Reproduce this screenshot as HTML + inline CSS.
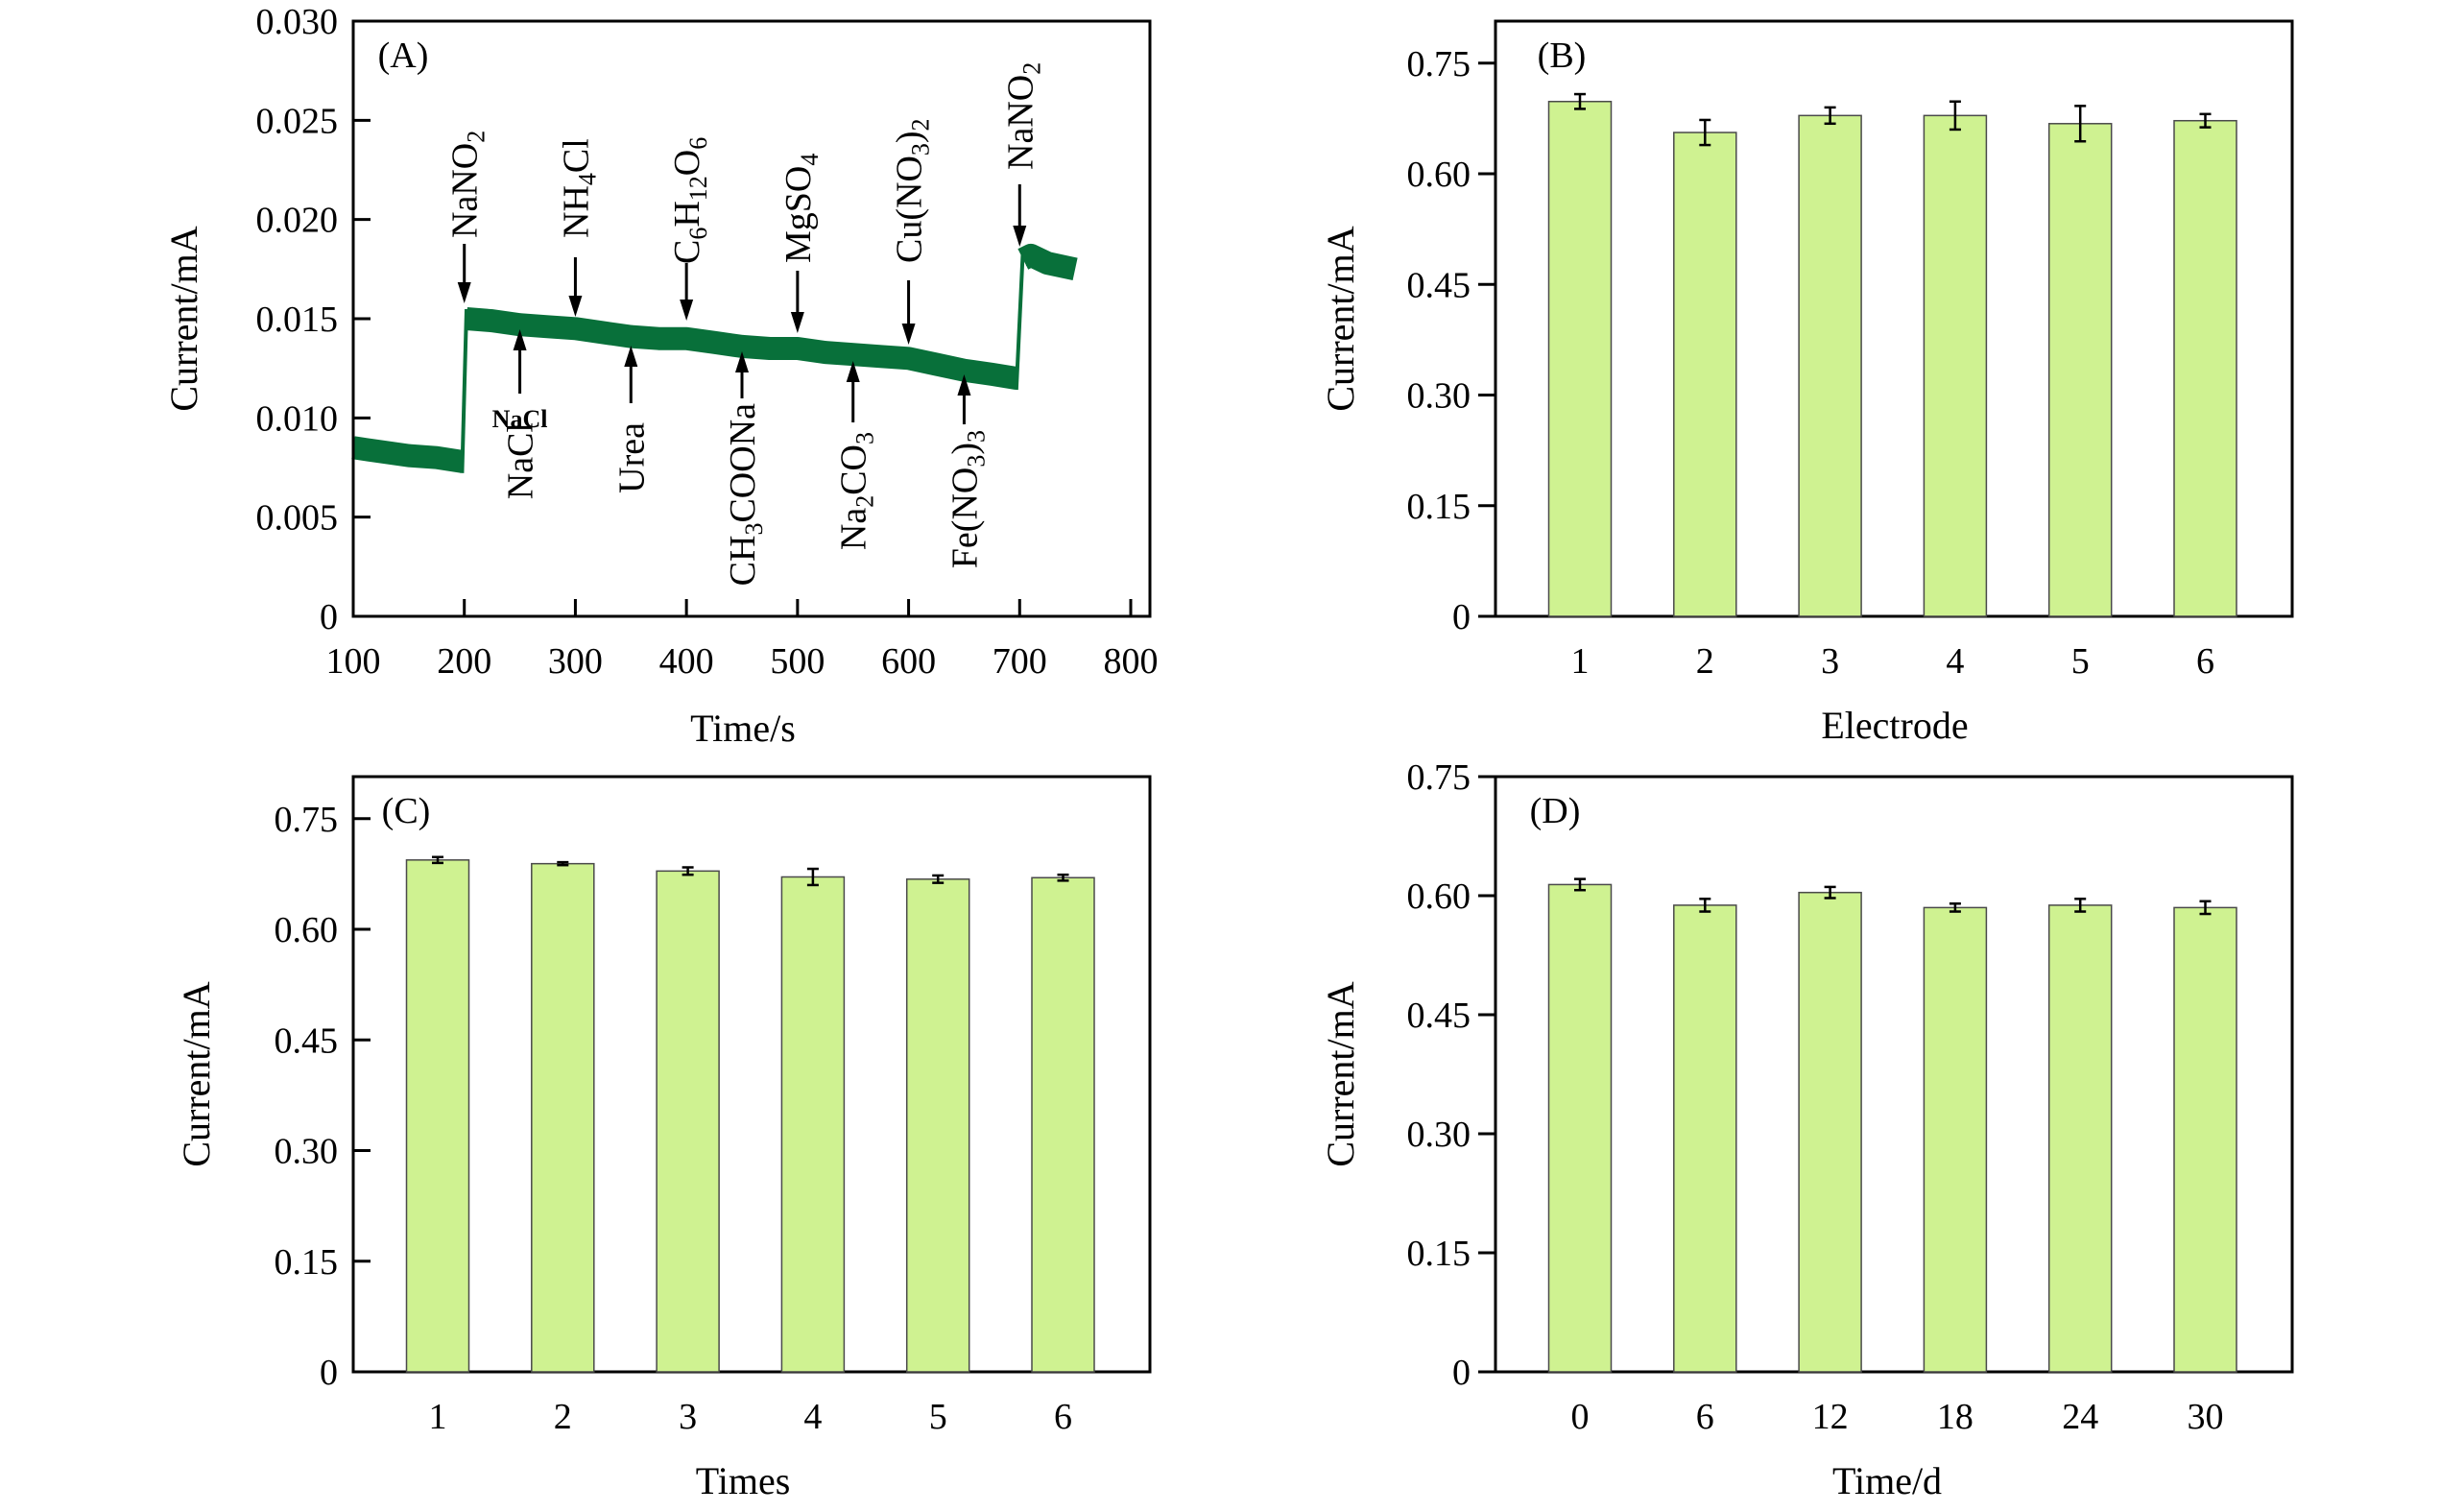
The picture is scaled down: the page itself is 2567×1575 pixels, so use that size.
<!DOCTYPE html>
<html><head><meta charset="utf-8"><style>
html,body{margin:0;padding:0;background:#fff;}
svg{display:block;font-family:"Liberation Serif",serif;}
</style></head><body>
<svg id="fig" width="2567" height="1575" viewBox="0 0 2567 1575" xmlns="http://www.w3.org/2000/svg"></svg>
<script>
// Panel A data
const aTimes = [100,125,150,175,198,202,225,250,275,300,325,350,375,400,425,450,475,500,525,550,575,600,625,650,675,697,703,710,725,750];
const aCurrent = [0.0085,0.0083,0.0081,0.0080,0.0078,0.0150,0.0149,0.0147,0.0146,0.0145,0.0143,0.0141,0.0140,0.0140,0.0138,0.0136,0.0135,0.0135,0.0133,0.0132,0.0131,0.0130,0.0127,0.0124,0.0122,0.0120,0.0180,0.0182,0.0178,0.0175];
const aXTicks = [100,200,300,400,500,600,700,800];
const aYTicks = [0,0.005,0.010,0.015,0.020,0.025,0.030];
const aYTickLabels = ["0","0.005","0.010","0.015","0.020","0.025","0.030"];
const annTimes = [200,300,400,500,600,700,250,350,450,550,650];
const annDown = [true,true,true,true,true,true,false,false,false,false,false];
// Panel B
const bCats = ["1","2","3","4","5","6"];
const bVals = [0.698,0.656,0.679,0.679,0.668,0.672];
const bErr = [0.010,0.017,0.011,0.019,0.024,0.009];
// Panel C
const cCats = ["1","2","3","4","5","6"];
const cVals = [0.694,0.689,0.679,0.671,0.668,0.670];
const cErr = [0.004,0.002,0.005,0.011,0.005,0.004];
// Panel D
const dCats = ["0","6","12","18","24","30"];
const dVals = [0.614,0.588,0.604,0.585,0.588,0.585];
const dErr = [0.007,0.008,0.007,0.005,0.008,0.008];
const barTicks = [0,0.15,0.30,0.45,0.60,0.75];
const barTickLabels = ["0","0.15","0.30","0.45","0.60","0.75"];

const NS="http://www.w3.org/2000/svg";
const svg=document.getElementById('fig');
function mk(tag,attrs,parent){const e=document.createElementNS(NS,tag);for(const k in attrs)e.setAttribute(k,attrs[k]);(parent||svg).appendChild(e);return e;}

function frame(g,L,T,R,B){
  const r=mk('rect',{x:L,y:T,width:R-L,height:B-T,fill:'none',stroke:'#000','stroke-width':3},g);
  
  
}
function label(g,x,y,txt,size,anchor,name,extra){
  const t=mk('text',Object.assign({x:x,y:y,'font-size':size,'text-anchor':anchor||'middle',fill:'#000'},extra||{}),g);
  t.textContent=txt;
  
  
  return t;
}

// ---------- Panel A ----------
(function(){
  const g=mk('g',{});
  
  
  const L=368,R=1198,T=22,B=642;
  const x=v=>L+(v-100)/700*(1178-368);
  const y=v=>B-(v/0.030)*(B-T);
  // series: split into segments at jumps
  const segs=[[0]];
  for(let i=1;i<aTimes.length;i++){
    if(Math.abs(aCurrent[i]-aCurrent[i-1])>0.003){
      const j=mk('line',{x1:x(aTimes[i-1]),y1:y(aCurrent[i-1])+12,x2:x(aTimes[i]),y2:y(aCurrent[i])-10,stroke:'#08703a','stroke-width':4},g);
      
      
      segs.push([i]);
    } else segs[segs.length-1].push(i);
  }
  segs.forEach(s=>{
    let d='';
    s.forEach((i,k)=>{d+=(k?'L':'M')+x(aTimes[i]).toFixed(1)+' '+y(aCurrent[i]).toFixed(1);});
    const p=mk('path',{d:d,fill:'none',stroke:'#08703a','stroke-width':24,'stroke-linejoin':'round'},g);
    
    
  });
  frame(g,L,T,R,B);
  aXTicks.forEach(v=>{
    const l=mk('line',{x1:x(v),x2:x(v),y1:B,y2:B-18,stroke:'#000','stroke-width':3},g);
    
    
    label(g,x(v),701,String(v),38,'middle','x-tick-label');
  });
  aYTicks.forEach((v,i)=>{
    const l=mk('line',{x1:L,x2:L+18,y1:y(v),y2:y(v),stroke:'#000','stroke-width':3},g);
    
    
    label(g,L-16,y(v)+13,aYTickLabels[i],38,'end','y-tick-label');
  });
  label(g,774,772,'Time/s',40,'middle','x-axis-title');
  label(g,0,0,'Current/mA',40,'middle','y-axis-title',{transform:'translate(205,332) rotate(-90)'});
  label(g,420,70,'(A)',38,'middle','panel-label-a');
  const labels=[
    ['NaNO',[['2',1]]],['NH',[['4',1],['Cl',0]]],['C',[['6',1],['H',0],['12',1],['O',0],['6',1]]],['MgSO',[['4',1]]],['Cu(NO',[['3',1],[')',0],['2',1]]],['NaNO',[['2',1]]],
    ['NaCl',[]],['Urea',[]],['CH',[['3',1],['COONa',0]]],['Na',[['2',1],['CO',0],['3',1]]],['Fe(NO',[['3',1],[')',0],['3',1]]]
  ];
  const arrowTop=[[254,316],[268,330],[274,334],[282,347],[292,359],[192,257]];
  const textBottom=[248,248,275,274,274,177];
  const arrowBot=[[343,410],[360,420],[366,415],[376,440],[390,442]];
  const textTop=[440,440,420,450,448];
  annTimes.forEach((t,i)=>{
    const ax=x(t);
    let y1,y2,tip,ty,anchor;
    if(annDown[i]){[y1,y2]=arrowTop[i];tip=y2;ty=textBottom[i];anchor='start';}
    else{const k=i-6;[y1,y2]=arrowBot[k];tip=y1;ty=textTop[k];anchor='end';}
    const ag=mk('g',{},g);
    
    
    mk('line',{x1:ax,x2:ax,y1:annDown[i]?y1:y1+14,y2:annDown[i]?y2-14:y2,stroke:'#000','stroke-width':3},ag);
    const s=annDown[i]?1:-1;
    mk('polygon',{points:`${ax},${tip} ${ax-7},${tip-s*22} ${ax+7},${tip-s*22}`,fill:'#000'},ag);
    const tx=mk('text',{x:0,y:0,'font-size':38,'text-anchor':anchor,transform:`translate(${ax+13},${ty}) rotate(-90)`},g);
    
    
    const base=mk('tspan',{},tx);base.textContent=labels[i][0];
    let sub=false;
    labels[i][1].forEach(([s2,isSub])=>{
      const ts=mk('tspan',{},tx);
      if(isSub){ts.setAttribute('font-size',26);ts.setAttribute('dy',sub?0:8);sub=true;}
      else{ts.setAttribute('dy',sub?-8:0);sub=false;}
      ts.textContent=s2;
    });
  });
  label(g,x(250),445,'NaCl',26,'middle','nacl-overlay-label',{'font-weight':'bold'});
})();

// ---------- Bar panels ----------
function barPanel(name,letter,cats,vals,errs,L,T,xTitle,ymax,inward,titleX,ylabX,lblX){
  const g=mk('g',{});
  
  
  const R=L+830,B=T+620;
  const y=v=>B-(v/ymax)*(B-T);
  const x=i=>L+88+130.3*i;
  frame(g,L,T,R,B);
  cats.forEach((c,i)=>{
    const r=mk('rect',{x:x(i)-32.5,y:y(vals[i]),width:65,height:B-y(vals[i]),fill:'#cff291',stroke:'#4a4a4a','stroke-width':1.5},g);
    
    
    const eg=mk('g',{stroke:'#000','stroke-width':2.5},g);
    
    
    const yt=y(vals[i]+errs[i]),yb=y(vals[i]-errs[i]);
    mk('line',{x1:x(i),x2:x(i),y1:yt,y2:yb},eg);
    mk('line',{x1:x(i)-6,x2:x(i)+6,y1:yt,y2:yt},eg);
    mk('line',{x1:x(i)-6,x2:x(i)+6,y1:yb,y2:yb},eg);
    label(g,x(i),B+59,c,38,'middle','x-tick-label');
  });
  barTicks.forEach((v,i)=>{
    const l=mk('line',{x1:inward?L:L-18,x2:inward?L+18:L,y1:y(v),y2:y(v),stroke:'#000','stroke-width':3},g);
    
    
    label(g,L-(inward?16:26),y(v)+13,barTickLabels[i],38,'end','y-tick-label');
  });
  label(g,titleX,B+127,xTitle,40,'middle','x-axis-title');
  label(g,0,0,'Current/mA',40,'middle','y-axis-title',{transform:`translate(${ylabX},${T+310}) rotate(-90)`});
  label(g,lblX,T+48,'('+letter+')',38,'middle','panel-label-'+letter.toLowerCase());
}
barPanel('panel-b','B',bCats,bVals,bErr,1558,22,'Electrode',0.807,false,1974,1410,1627);
barPanel('panel-c','C',cCats,cVals,cErr,368,809,'Times',0.807,true,774,218,423);
barPanel('panel-d','D',dCats,dVals,dErr,1558,809,'Time/d',0.75,false,1966,1410,1620);
</script>
</body></html>
